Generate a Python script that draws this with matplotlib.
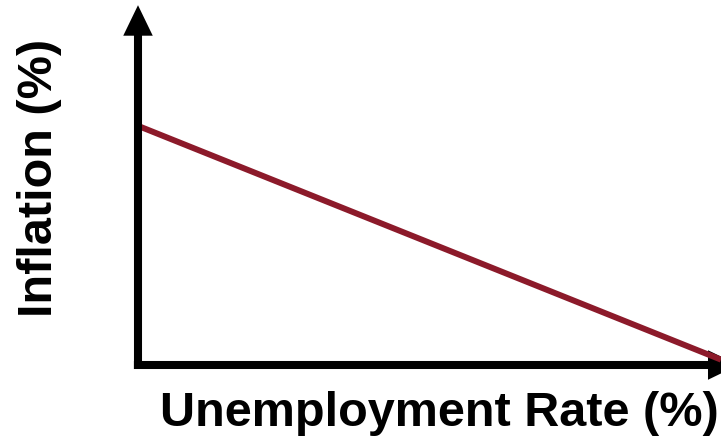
import matplotlib.pyplot as plt
import matplotlib as mpl

RED1 = '#8C1A2A'
BLACK = '#000000'

mpl.rcParams['font.family'] = ['Liberation Sans', 'DejaVu Sans']

# Phillips curve: inflation falls as unemployment rises
unemployment = [0, 10]
inflation = [6.68, 0.15]

fig = plt.figure(figsize=(7.21, 4.41), dpi=100)
# axes box in pixels: left 138, bottom 365 (from top), right 721, top 7
ax = fig.add_axes([138 / 721, (441 - 365) / 441, (721 - 138) / 721, (365 - 7) / 441])
ax.set_xlim(0, 10)
ax.set_ylim(0, 10)
ax.axis('off')

ax.plot(unemployment, inflation, color=RED1, lw=4.3, solid_capstyle='butt', clip_on=False, zorder=2)

arrow = dict(arrowstyle='-|>,head_length=0.62,head_width=0.3', mutation_scale=20,
             lw=5.8, color=BLACK, shrinkA=0, shrinkB=0, joinstyle='miter', capstyle='butt')
# y axis
ax.annotate('', xy=(0, 1.005), xytext=(0, -0.011), xycoords='axes fraction',
            arrowprops=arrow, annotation_clip=False, zorder=3)
# x axis
ax.annotate('', xy=(1.03, 0), xytext=(-0.007, 0), xycoords='axes fraction',
            arrowprops=arrow, annotation_clip=False, zorder=1)

fig.text(160 / 721, 1 - 413 / 441, 'Unemployment Rate (%)', fontsize=35, fontweight='bold',
         ha='left', va='center')
fig.text(40 / 721, 1 - 178 / 441, 'Inflation (%)', fontsize=35, fontweight='bold',
         rotation=90, ha='center', va='center')

fig.savefig('out.png', dpi=100)
